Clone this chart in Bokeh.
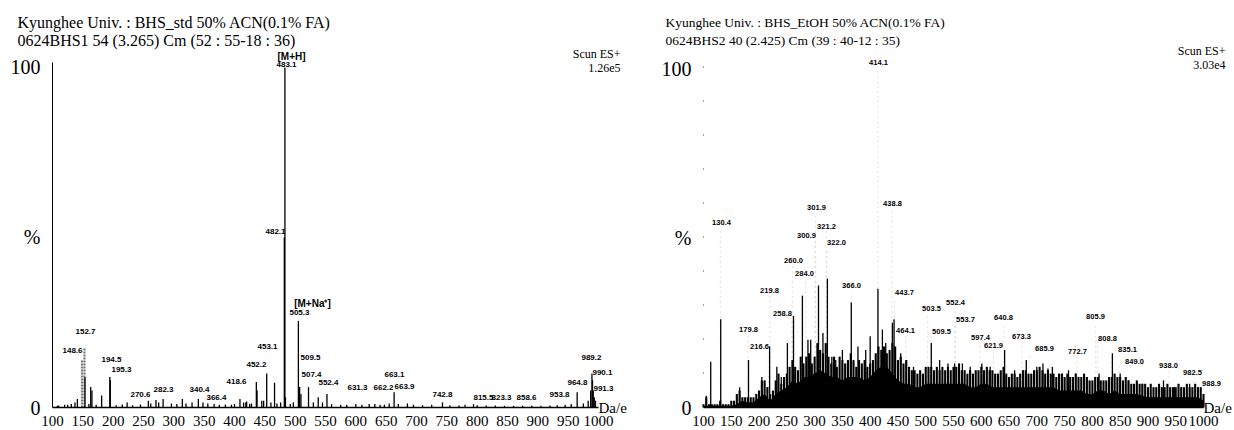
from bokeh.plotting import figure
from bokeh.layouts import row
from bokeh.models import Range1d, FixedTicker, Label
from bokeh.core.properties import value
from bokeh.embed import file_html
from bokeh.resources import INLINE

SERIF = "Liberation Serif"
SANS = "Liberation Sans"

# ---------------- shared axis data ----------------
x_ticks = [100, 150, 200, 250, 300, 350, 400, 450, 500, 550,
           600, 650, 700, 750, 800, 850, 900, 950, 1000]
y_ticks = [0, 50, 100]
y_tick_labels = {0: "0", 50: "%", 100: "100"}
x_unit = "Da/e"

# ---------------- left spectrum (BHS_std) ----------------
left_title = ["Kyunghee Univ. : BHS_std 50% ACN(0.1% FA)",
              "0624BHS1 54 (3.265) Cm (52 : 55-18 : 36)"]
left_scan = ["Scun ES+", "1.26e5"]

left_mz = [108, 110, 120, 125, 131, 137, 141, 153.5, 160, 163, 165, 172, 181,
           194.5, 195.3, 205, 215, 223, 232, 245, 258, 262, 270.6, 275, 282.3,
           296, 305, 314, 320, 330, 340.4, 348, 356, 366.4, 375, 385, 395, 400,
           409, 415, 418.6, 420, 425, 428, 436, 437.2, 445, 448, 453.1, 460,
           466, 470, 476, 482.1, 483.1, 484, 492, 497, 505.3, 507.4, 509.5, 522,
           530, 538, 545, 552.4, 560, 575, 585, 600, 610, 622, 631.3, 640, 647,
           655, 663.1, 670, 685, 695, 710, 725, 742.8, 755, 770, 780, 794, 800,
           815, 830, 845, 860, 875, 890, 905, 920, 932, 945, 955, 964.8, 975,
           983, 987, 989.2, 990.1, 991.3, 993, 995]
left_int = [0.5, 0.6, 0.8, 0.8, 1.0, 1.5, 2.5, 9.0, 1.0, 6.0, 5.0, 0.8, 3.5,
            9.0, 8.0, 0.7, 0.9, 1.5, 0.7, 0.9, 2.0, 1.2, 2.2, 1.5, 2.5,
            1.2, 1.0, 2.5, 1.2, 1.5, 2.5, 1.5, 1.2, 1.0, 0.8, 0.9, 0.8, 1.0,
            2.5, 1.5, 1.5, 1.8, 1.0, 1.2, 7.5, 5.0, 2.0, 2.0, 10.0, 1.5,
            7.3, 1.2, 1.5, 50.0, 100.0, 3.0, 1.0, 1.5, 25.5, 6.0, 4.0, 6.0,
            1.5, 3.0, 1.5, 4.0, 1.0, 0.8, 0.8, 1.0, 0.8, 1.0, 1.0, 0.8, 0.8,
            1.2, 4.5, 1.0, 1.2, 0.8, 0.7, 0.8, 1.5, 0.7, 0.6, 0.8, 1.0, 0.7,
            0.6, 0.6, 0.5, 0.5, 0.5, 0.5, 0.5, 0.6, 0.7, 0.8, 1.0, 4.5, 1.2,
            2.0, 5.0, 10.0, 8.0, 5.0, 3.0, 2.0]
left_faint_mz = [148.6, 152.7]
left_faint_int = [14.0, 17.5]

left_lab_text = ["483.1", "482.1", "152.7", "148.6", "194.5", "195.3",
                 "270.6", "282.3", "340.4", "366.4", "418.6", "452.2", "453.1",
                 "505.3", "509.5", "507.4", "552.4", "631.3", "662.2",
                 "663.9", "663.1", "742.8", "815.5", "823.3", "858.6", "953.8",
                 "964.8", "989.2", "990.1", "991.3"]
left_lab_x = [485.7, 467.6, 154.4, 133.0, 197.2, 213.7,
              245.0, 283.0, 342.3, 370.3, 403.3, 436.2, 454.4,
              507.1, 525.3, 526.9, 554.9, 602.7, 645.6,
              680.2, 663.7, 742.8, 810.4, 840.1, 881.3, 935.7,
              965.3, 988.4, 1006.5, 1008.2]
left_lab_y = [100.9, 51.8, 22.5, 16.9, 14.2, 11.2,
              3.8, 5.3, 5.3, 3.0, 7.7, 12.7, 17.8,
              27.8, 14.8, 9.8, 7.4, 5.9, 5.9,
              6.2, 9.8, 3.8, 3.0, 3.0, 3.0, 3.8,
              7.4, 14.8, 10.4, 5.6]
left_note_text = ["[M+H]", "[M+Na⁺]"]
left_note_x = [494.0, 528.5]
left_note_y = [103.3, 30.5]

# ---------------- right spectrum (BHS_EtOH) ----------------
right_title = ["Kyunghee Univ. : BHS_EtOH 50% ACN(0.1% FA)",
               "0624BHS2 40 (2.425) Cm (39 : 40-12 : 35)"]
right_scan = ["Scun ES+", "3.03e4"]

# solid core of the ion forest, every 10 Da from 100 to 1000
right_core_mz = [100 + 10 * i for i in range(91)]
right_core_int = [
    0.5, 0.5, 0.5, 0.5, 0.5, 0.5, 1, 2, 1.5, 1.5,
    3, 4, 2, 4, 5, 6, 8, 7, 9, 9,
    10, 11, 10, 9, 9, 8, 9, 9, 9, 8,
    9, 11, 12, 12, 10, 8, 7, 7, 6, 6,
    7, 7, 7, 7, 7, 7, 7, 7, 6, 6,
    7, 7, 6, 6, 6, 6, 6, 6, 6, 6,
    6, 6, 6, 6, 5, 5, 5, 5, 5, 4,
    4, 5, 5, 4, 5, 4, 4, 4, 4, 3.5,
    3, 3, 3, 3, 3, 3, 3, 3, 3, 3,
    2]
# dense ion lines, one every 5 Da from 100 to 1000
right_dense_mz = [100 + 5 * i for i in range(181)]
right_dense_int = [
    1, 3, 1, 1, 1, 1, 2, 1, 1, 1, 2, 2, 4, 5, 3, 3, 3, 3, 3, 4,
    5, 8, 8, 6, 4, 5, 8, 10, 7, 9, 10, 12, 14, 12, 11, 15, 13, 15, 16, 13,
    15, 19, 17, 16, 19, 15, 13, 15, 12, 15, 14, 13, 14, 16, 14, 12, 14, 13, 14, 12,
    13, 14, 16, 18, 17, 18, 16, 17, 19, 18, 14, 15, 13, 14, 12, 11, 11, 10, 11, 10,
    12, 12, 12, 11, 12, 11, 12, 11, 12, 11, 12, 12, 13, 11, 11, 10, 11, 10, 11, 11,
    12, 11, 12, 11, 11, 10, 10, 11, 12, 10, 9, 10, 10, 9, 10, 11, 11, 10, 10, 11,
    11, 12, 11, 10, 11, 10, 10, 9, 10, 10, 9, 10, 9, 9, 10, 9, 9, 10, 9, 8,
    8, 9, 9, 8, 8, 8, 9, 9, 10, 9, 9, 8, 9, 8, 7, 7, 8, 7, 7, 7,
    6, 7, 6, 6, 7, 6, 6, 7, 6, 6, 6, 7, 6, 6, 7, 6, 6, 7, 6, 6,
    4]
# taller individual spikes (visible black part)
right_mz = [105, 113, 131, 165, 181, 205, 219, 232, 240, 251, 262, 278, 288, 293,
            307, 315, 323, 331, 338, 350, 366, 378, 392, 400, 414, 422, 428, 440,
            443, 455, 465, 478, 510, 525, 540, 552, 566, 580, 601, 616, 642, 660,
            681, 700, 711, 720, 728, 746, 757, 770, 790, 812, 836, 850, 865, 890,
            928, 948, 960, 975, 990]
right_int = [3.5, 13.5, 26, 6, 14, 9, 18, 12, 9, 19, 27, 33, 20, 20,
             36, 22, 38, 15, 14, 17, 31, 18, 17, 21, 35, 23, 19, 25,
             26, 16, 14, 12, 19, 14, 13, 13, 13, 12, 13, 12, 17, 11,
             14, 12, 13, 11.5, 12, 10, 11, 10, 9, 10, 16, 10, 8, 7,
             8, 6, 6, 7, 6]
# labelled peaks at full height (upper part faint in the scan)
right_peak_mz = [130.4, 179.8, 216.6, 219.8, 258.8, 260.0, 284.0, 300.9, 301.9,
                 321.2, 322.0, 366.0, 414.1, 438.8, 443.7, 464.1, 503.5, 509.5,
                 552.4, 553.7, 597.4, 621.9, 640.8, 673.3, 685.9, 772.7, 805.9,
                 808.8, 835.1, 849.0, 938.0, 982.5, 988.9]
right_peak_int = [53, 21.5, 16.5, 33, 26, 42, 38, 49, 57,
                  52, 47, 34, 100, 58.5, 32, 21, 27.6, 21,
                  29, 24, 19, 17, 25, 19.4, 16, 15, 25,
                  19, 15.6, 12, 11, 9, 5.6]

right_lab_text = ["414.1", "130.4", "301.9", "321.2", "300.9", "322.0", "260.0",
                  "284.0", "366.0", "219.8", "258.8", "179.8", "216.6", "438.8",
                  "443.7", "464.1", "503.5", "552.4", "553.7", "509.5", "597.4",
                  "621.9", "640.8", "673.3", "685.9", "772.7", "805.9", "808.8",
                  "835.1", "849.0", "938.0", "982.5", "988.9"]
right_lab_x = [415.0, 132.4, 303.4, 321.4, 285.4, 339.4, 262.0,
               281.8, 366.4, 218.8, 242.2, 181.0, 200.8, 440.2,
               461.8, 463.6, 510.4, 553.6, 571.6, 528.4, 598.6,
               622.0, 640.0, 672.4, 713.8, 773.2, 805.6, 827.2,
               863.2, 875.8, 937.0, 980.2, 1014.4]
right_lab_y = [101.8, 54.6, 59.0, 53.4, 50.7, 48.7, 43.4,
               39.5, 36.0, 34.5, 27.7, 23.0, 18.0, 60.2,
               33.9, 22.7, 29.2, 31.0, 26.0, 22.4, 20.6,
               18.3, 26.5, 20.9, 17.4, 16.5, 26.8, 20.4,
               17.1, 13.6, 12.4, 10.3, 7.1]


def make_panel(width, x_range, y_range, title, scan, title_dx, title_size,
               scan_dx, scan_y, axis_dash):
    p = figure(width=width, height=430, output_backend="svg",
               toolbar_location=None, x_range=Range1d(*x_range),
               y_range=Range1d(*y_range), min_border_left=0,
               min_border_right=0, min_border_top=0, min_border_bottom=0)
    p.outline_line_color = None
    p.grid.visible = False
    p.background_fill_color = "white"
    p.border_fill_color = "white"

    xa = p.xaxis[0]
    xa.fixed_location = 0
    xa.ticker = FixedTicker(ticks=x_ticks)
    xa.bounds = (100, 1000)
    xa.major_tick_out = 0
    xa.major_tick_in = 0
    xa.minor_tick_out = 0
    xa.minor_tick_in = 0
    xa.major_label_standoff = 8
    xa.major_label_text_font = SERIF
    xa.major_label_text_font_size = "15px"
    xa.major_label_text_color = "black"
    xa.axis_line_color = "black"
    xa.axis_line_width = 1.3

    ya = p.yaxis[0]
    ya.fixed_location = 100
    ya.ticker = FixedTicker(ticks=y_ticks)
    ya.major_label_overrides = y_tick_labels
    ya.bounds = (0, 101.5)
    ya.major_tick_out = 0
    ya.major_tick_in = 0
    ya.minor_tick_out = 0
    ya.minor_tick_in = 0
    ya.major_label_standoff = 12
    ya.major_label_text_font = SERIF
    ya.major_label_text_font_size = "20px"
    ya.major_label_text_color = "black"
    ya.axis_line_color = "black"
    ya.axis_line_width = 1
    if axis_dash:
        ya.axis_line_dash = axis_dash
        ya.axis_line_color = "#444444"

    for i, t in enumerate(title):
        p.add_layout(Label(x=100, y=y_range[1], x_offset=title_dx,
                           y_offset=-22 - 18 * i, text=t, text_font=SERIF,
                           text_font_size=title_size, text_align="left",
                           text_baseline="middle", text_color="black"))
    for i, t in enumerate(scan):
        p.add_layout(Label(x=1000, y=scan_y, x_offset=scan_dx, y_offset=-14 * i,
                           text=t, text_font=SERIF, text_font_size="12px",
                           text_align="right", text_baseline="middle",
                           text_color="black"))
    p.add_layout(Label(x=1000, y=0, x_offset=0, text=x_unit, text_font=SERIF,
                       text_font_size="15px", text_align="left",
                       text_baseline="middle", text_color="black"))
    return p


# ---------------- left panel: 100 Da at x=52 px, 1000 Da at 598 px ----------------
pl = make_panel(648, (14.29, 1082.4), (-6.76, 119.7), left_title, left_scan,
                -35, "16px", 22, 104.1, None)
pl.segment(x0=left_faint_mz, y0=[0] * len(left_faint_mz), x1=left_faint_mz,
           y1=left_faint_int, line_color="#777777", line_width=2.2,
           line_dash="2 1")
pl.segment(x0=left_mz, y0=[0] * len(left_mz), x1=left_mz, y1=left_int,
           line_color="black", line_width=1.3)
pl.text(x=left_lab_x, y=left_lab_y, text=left_lab_text,
        text_font=value(SANS), text_font_style="bold", text_font_size="8px",
        text_align="center", text_baseline="middle", text_color="black")
pl.text(x=left_note_x, y=left_note_y, text=left_note_text,
        text_font=value(SANS), text_font_style="bold", text_font_size="10px",
        text_align="center", text_baseline="middle", text_color="black")

# ---------------- right panel: 100 Da at x=703 px, 1000 Da at 1203 px ----------------
pr = make_panel(586, (1.0, 1055.8), (-6.78, 120.06), right_title, right_scan,
                -38, "13.5px", 22, 105.3, "1 33")
pr.segment(x0=right_peak_mz, y0=[0] * len(right_peak_mz), x1=right_peak_mz,
           y1=right_peak_int, line_color="#c4c4c4", line_width=1,
           line_dash="1 4")
pr.varea(x=right_core_mz, y1=[0] * len(right_core_mz), y2=right_core_int,
         fill_color="black")
pr.segment(x0=right_dense_mz, y0=[0] * len(right_dense_mz), x1=right_dense_mz,
           y1=right_dense_int, line_color="black", line_width=2.1)
pr.segment(x0=right_mz, y0=[0] * len(right_mz), x1=right_mz, y1=right_int,
           line_color="black", line_width=1.3)
pr.text(x=right_lab_x, y=right_lab_y, text=right_lab_text,
        text_font=value(SANS), text_font_style="bold", text_font_size="7.5px",
        text_align="center", text_baseline="middle", text_color="black")

layout = row(pl, pr)
open("out.html", "w").write(file_html(layout, INLINE))
